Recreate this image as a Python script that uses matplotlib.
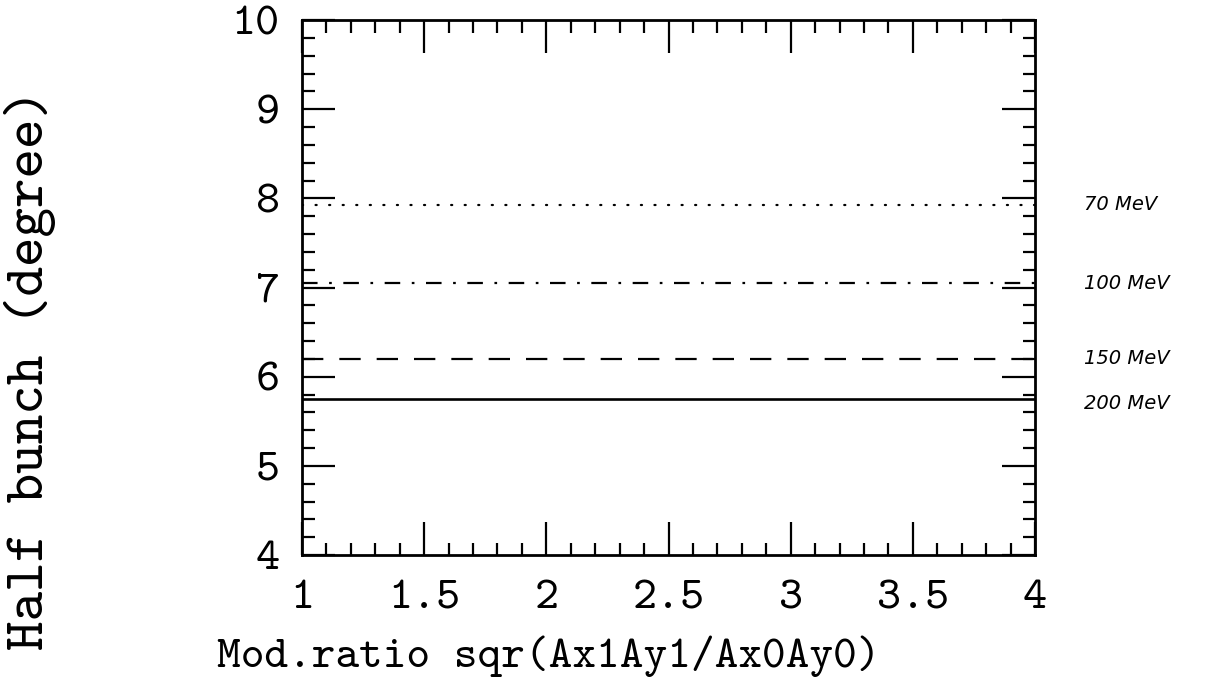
import numpy as np
import matplotlib.pyplot as plt
from matplotlib.ticker import MultipleLocator

# Datos: media anchura del paquete frente a la razón de modulación
razon = [1.0, 1.5, 2.0, 2.5, 3.0, 3.5, 4.0]
bunch_70 = [7.93, 7.93, 7.93, 7.93, 7.93, 7.93, 7.93]
bunch_100 = [7.05, 7.05, 7.05, 7.05, 7.05, 7.05, 7.05]
bunch_150 = [6.20, 6.20, 6.20, 6.20, 6.20, 6.20, 6.20]
bunch_200 = [5.75, 5.75, 5.75, 5.75, 5.75, 5.75, 5.75]
energias = ["70 MeV", "100 MeV", "150 MeV", "200 MeV"]

# Tipografía de máquina de escribir (cmtt10 viene con matplotlib)
plt.rcParams['font.family'] = ['cmtt10', 'Liberation Mono', 'DejaVu Sans Mono']
plt.rcParams['axes.unicode_minus'] = False

fig = plt.figure(figsize=(12.1, 6.81), dpi=100)
ax = fig.add_axes([0.2496, 0.185, 0.6058, 0.7856])

# Curvas con los estilos de línea de cada energía
ax.plot(razon, bunch_70, color='black', lw=1.6, dash_capstyle='round',
        linestyle=(0, (0.5, 5.6)))
ax.plot(razon, bunch_100, color='black', lw=1.6,
        linestyle=(0, (7.0, 5.2, 1.2, 5.2)))
ax.plot(razon, bunch_150, color='black', lw=1.6,
        linestyle=(0, (9.6, 7.2)))
ax.plot(razon, bunch_200, color='black', lw=1.9)

# Etiquetas de energía a la derecha de la gráfica
series = [bunch_70, bunch_100, bunch_150, bunch_200]
desfase = [0.0, 0.0, 0.0, -0.05]
for nombre, serie, d in zip(energias, series, desfase):
    ax.text(4.2, serie[-1] + d, nombre, fontsize=14, style='italic',
            family='DejaVu Sans', va='center', ha='left', clip_on=False)

ax.set_xlim(1, 4)
ax.set_ylim(4, 10)
ax.xaxis.set_major_locator(MultipleLocator(0.5))
ax.xaxis.set_minor_locator(MultipleLocator(0.1))
ax.yaxis.set_major_locator(MultipleLocator(1))
ax.yaxis.set_minor_locator(MultipleLocator(0.2))
ax.set_xticks([1, 1.5, 2, 2.5, 3, 3.5, 4])
ax.set_xticklabels(["1", "1.5", "2", "2.5", "3", "3.5", "4"])

ax.tick_params(which='both', direction='in', top=True, right=True,
               width=1.6, labelsize=33)
ax.tick_params(which='major', length=24)
ax.tick_params(which='minor', length=9)
ax.tick_params(axis='x', which='major', pad=18)
ax.tick_params(axis='y', which='major', pad=16)
for lado in ax.spines.values():
    lado.set_linewidth(2.0)

ax.set_xlabel("Mod.ratio sqr(Ax1Ay1/Ax0Ay0)", fontsize=32.5)
ax.xaxis.set_label_coords(0.336, -0.15)
ax.set_ylabel("Half bunch (degree)", fontsize=40.5)
ax.yaxis.set_label_coords(-0.335, 0.346)

fig.savefig("out.png", dpi=100, facecolor='white')
